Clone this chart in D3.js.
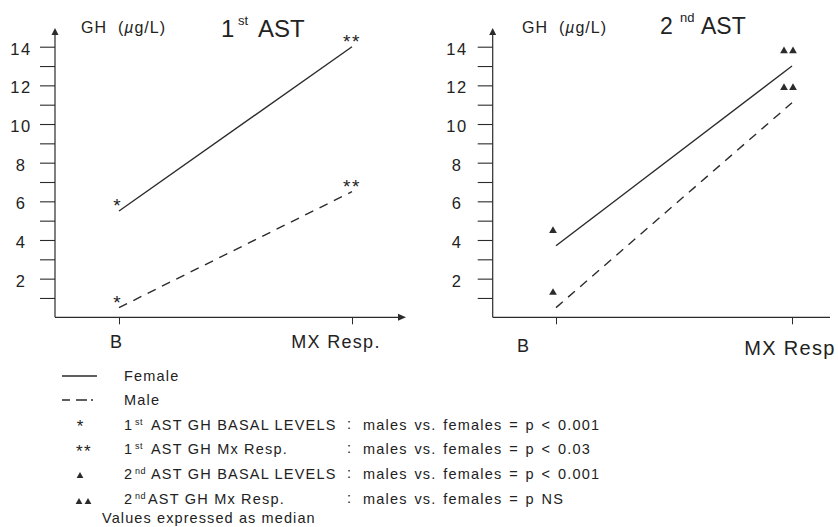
<!DOCTYPE html>
<html>
<head>
<meta charset="utf-8">
<script src="https://cdn.jsdelivr.net/npm/d3@7"></script>
<style>
    body { margin: 0; background: #fff; }
    svg { display: block; font-family: "Liberation Sans", Arial, sans-serif; }
    text { fill: #222; }
</style>
</head>
<body>
<svg id="chart" width="838" height="527"></svg>
<script>
// data (GH, ug/L, medians)
const categories = ["B", "MX Resp."];
const female1 = [5.5, 14.0];
const male1 = [0.5, 6.5];
const female2 = [3.7, 13.0];
const male2 = [0.5, 11.1];

const yTicks = d3.range(1, 15);
const yLabels = [2, 4, 6, 8, 10, 12, 14];

const legendSup = ["", "", "st", "st", "nd", "nd"];
const legendLead = ["Female", "Male", "1", "1", "2", "2"];
const legendRest = ["", "", "AST GH BASAL LEVELS", "AST GH Mx Resp.", "AST GH BASAL LEVELS", "AST GH Mx Resp."];
const legendNotes = ["", "", "males vs. females = p < 0.001", "males vs. females = p < 0.03",
    "males vs. females = p < 0.001", "males vs. females = p NS"];
const footNote = "Values expressed as median";

const svg = d3.select("#chart");
const ink = "#2b2b2b";

// panel layout
const panels = [
    {
        num: "1", sup: "st", female: female1, male: male1, mark: "star",
        axisX: 55, axisEnd: 403, arrowX: true, xRange: [119, 352],
        titleX: [221, 238, 258], titleY: 37, titleSize: 24,
        ghX: 81, labelCenter: 21,
        catDx: [-3, -16], catY: [348, 348], catSize: [18, 18]
    },
    {
        num: "2", sup: "nd", female: female2, male: male2, mark: "tri",
        axisX: 492.7, axisEnd: 830, arrowX: false, xRange: [556, 792],
        titleX: [660, 680, 701], titleY: 33.5, titleSize: 23,
        ghX: 522, labelCenter: 457,
        catDx: [-33, -2], catY: [352, 355], catSize: [18, 20]
    }
];

const y = d3.scaleLinear().domain([0, 14]).range([317.3, 46.7]);

panels.forEach(p => {
    const g = svg.append("g");
    const x = d3.scalePoint().domain(categories).range(p.xRange);
    const y0 = y(0);

    // y axis with arrow
    g.append("line")
        .attr("x1", p.axisX).attr("x2", p.axisX)
        .attr("y1", y0).attr("y2", 33)
        .attr("stroke", ink).attr("stroke-width", 1.2);
    g.append("path")
        .attr("d", `M${p.axisX},28 L${p.axisX - 3.5},35 L${p.axisX + 3.5},35 Z`)
        .attr("fill", ink);

    // x axis
    g.append("line")
        .attr("x1", p.axisX).attr("x2", p.axisEnd)
        .attr("y1", y0).attr("y2", y0)
        .attr("stroke", ink).attr("stroke-width", 1.2);
    if (p.arrowX) {
        g.append("path")
            .attr("d", `M${p.axisEnd + 3},${y0} L${p.axisEnd - 5},${y0 - 3.5} L${p.axisEnd - 5},${y0 + 3.5} Z`)
            .attr("fill", ink);
    }

    // y ticks
    const yAxis = d3.axisLeft(y)
        .tickValues(yTicks)
        .tickSize(15)
        .tickFormat(d => yLabels.includes(d) ? d : "");
    const ya = g.append("g")
        .attr("transform", `translate(${p.axisX},0)`)
        .call(yAxis);
    ya.select(".domain").remove();
    ya.selectAll(".tick line").attr("stroke", ink).attr("stroke-width", 1.1);
    ya.selectAll(".tick text")
        .attr("x", p.labelCenter - p.axisX)
        .attr("dy", "0.45em")
        .attr("text-anchor", "middle")
        .style("font-family", "'Liberation Sans', Arial, sans-serif")
        .style("font-size", "16.5px")
        .style("letter-spacing", "1.5px")
        .style("fill", "#222");

    // x ticks
    const xa = g.append("g")
        .attr("transform", `translate(0,${y0})`)
        .call(d3.axisBottom(x).tickSize(7).tickFormat(""));
    xa.select(".domain").remove();
    xa.selectAll(".tick line").attr("stroke", ink).attr("stroke-width", 1);

    // category labels
    categories.forEach((c, i) => {
        g.append("text")
            .attr("x", x(c) + p.catDx[i])
            .attr("y", p.catY[i])
            .attr("text-anchor", "middle")
            .style("font-size", p.catSize[i] + "px")
            .style("letter-spacing", i === 1 ? "1.3px" : "0px")
            .text(i === 1 && p.num === "2" ? "MX Resp" : c);
    });

    // unit label
    const gh = g.append("text")
        .attr("x", p.ghX).attr("y", 33)
        .style("font-size", "16px")
        .style("letter-spacing", "1px")
        .style("white-space", "pre");
    gh.append("tspan").text("GH  (");
    gh.append("tspan").style("font-style", "italic").text("\u00b5");
    gh.append("tspan").text("g/L)");

    // panel title
    const t = g.append("text").attr("y", p.titleY).style("font-size", p.titleSize + "px");
    t.append("tspan").attr("x", p.titleX[0]).text(p.num);
    t.append("tspan").attr("x", p.titleX[1]).attr("dy", -12).style("font-size", "13px").text(p.sup);
    t.append("tspan").attr("x", p.titleX[2]).attr("dy", 12).text("AST");

    // lines
    const line = d3.line()
        .x((d, i) => x(categories[i]))
        .y(d => y(d));
    g.append("path")
        .datum(p.female)
        .attr("d", line)
        .attr("fill", "none")
        .attr("stroke", ink)
        .attr("stroke-width", 1.4);
    g.append("path")
        .datum(p.male)
        .attr("d", line)
        .attr("fill", "none")
        .attr("stroke", ink)
        .attr("stroke-width", 1.4)
        .attr("stroke-dasharray", "9,7");

    // significance marks
    [p.female, p.male].forEach(series => {
        series.forEach((v, i) => {
            const cx = x(categories[i]);
            const cy = y(v);
            if (p.mark === "star") {
                g.append("text")
                    .attr("x", cx + (i === 0 ? -2 : 0))
                    .attr("y", cy + 1)
                    .attr("text-anchor", "middle")
                    .style("font-size", "19px")
                    .style("letter-spacing", i === 0 ? "0px" : "1.5px")
                    .text(i === 0 ? "*" : "**");
            } else {
                const offs = i === 0 ? [-3] : [-8, 1];
                offs.forEach(o => {
                    g.append("path")
                        .attr("d", d3.symbol(d3.symbolTriangle, 26)())
                        .attr("transform", `translate(${cx + o},${cy - 15})`)
                        .attr("fill", ink);
                });
            }
        });
    });
});

// legend
const rowY = [381, 405, 430, 454, 479, 504];
const leg = svg.append("g");

leg.append("line").attr("x1", 62).attr("x2", 97).attr("y1", 376).attr("y2", 376)
    .attr("stroke", ink).attr("stroke-width", 1.3);
leg.append("line").attr("x1", 62).attr("x2", 96).attr("y1", 400).attr("y2", 400)
    .attr("stroke", ink).attr("stroke-width", 1.3)
    .attr("stroke-dasharray", "8,6,11,4,2,20");

leg.append("text").attr("x", 80).attr("y", 432).attr("text-anchor", "middle")
    .style("font-size", "17px").text("*");
leg.append("text").attr("x", 84).attr("y", 457).attr("text-anchor", "middle")
    .style("font-size", "17px").style("letter-spacing", "1.5px").text("**");
[[80]].concat([[79, 88]]).forEach((xs, k) => {
    xs.forEach(xx => {
        leg.append("path")
            .attr("d", d3.symbol(d3.symbolTriangle, 20)())
            .attr("transform", `translate(${xx},${k === 0 ? 476 : 502})`)
            .attr("fill", ink);
    });
});

legendLead.forEach((lead, i) => {
    const tx = leg.append("text")
        .attr("x", 124).attr("y", rowY[i])
        .style("font-size", "14.5px")
        .style("letter-spacing", "1.2px");
    tx.append("tspan").text(lead);
    if (legendSup[i]) {
        tx.append("tspan").attr("x", 135).attr("dy", -5)
            .style("font-size", "9px").style("letter-spacing", "0.5px").text(legendSup[i]);
        tx.append("tspan").attr("x", i === 5 ? 148 : 151).attr("dy", 5).text(legendRest[i]);
    }
    if (legendNotes[i]) {
        leg.append("text").attr("x", 347).attr("y", rowY[i] - 1)
            .style("font-size", "14.5px").text(":");
        leg.append("text").attr("x", 363).attr("y", rowY[i])
            .style("font-size", "14.5px")
            .style("letter-spacing", "1.2px")
            .style("word-spacing", "1.5px")
            .text(legendNotes[i]);
    }
});

leg.append("text").attr("x", 102).attr("y", 523)
    .style("font-size", "14.5px")
    .style("letter-spacing", "1.1px")
    .text(footNote);
</script>
</body>
</html>
